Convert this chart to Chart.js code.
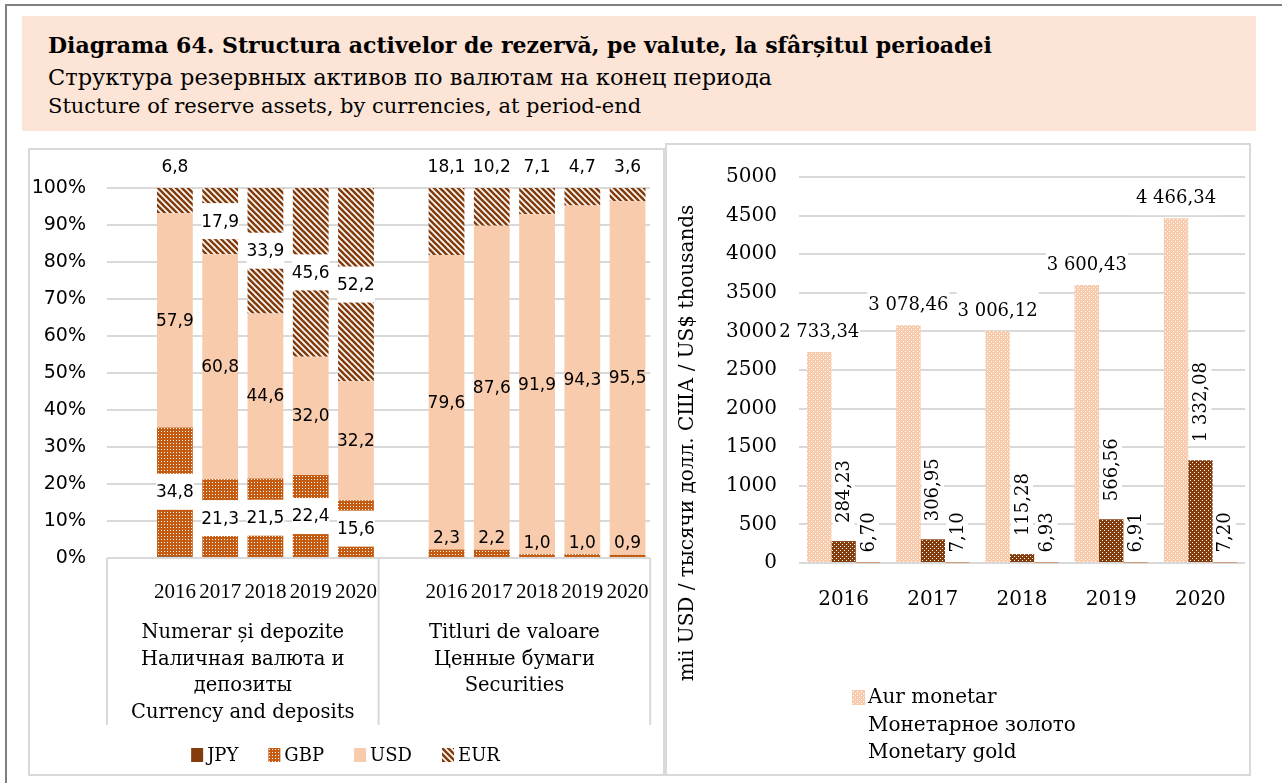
<!DOCTYPE html>
<html>
<head>
<meta charset="utf-8">
<script src="https://cdn.jsdelivr.net/npm/chart.js@4.4.1/dist/chart.umd.min.js"></script>
<style>
    body { margin: 0; width: 1282px; height: 783px; position: relative; overflow: hidden; background: #fff; font-family: "DejaVu Serif", serif; color: #000; }
    #frame { position: absolute; left: 5px; top: 4px; width: 1300px; height: 800px; border-left: 2px solid #808080; border-top: 2px solid #808080; }
    #head { position: absolute; left: 22px; top: 16px; width: 1234px; height: 115px; background: #fce4d6; }
    .hl { position: absolute; left: 26px; white-space: nowrap; line-height: 30px; }
    #t1 { top: 14px; font-weight: bold; font-size: 22px; }
    #t2 { top: 46px; font-size: 22.5px; }
    #t3 { top: 75px; font-size: 21px; }
    .panel { position: absolute; box-sizing: border-box; border: 2px solid #d9d9d9; }
    #pLeft { left: 28px; top: 148px; width: 637px; height: 628px; }
    #pRight { left: 665px; top: 143px; width: 586px; height: 633px; }
    canvas { position: absolute; }
</style>
</head>
<body>
<div id="frame"></div>
<div id="head">
    <div class="hl" id="t1">Diagrama 64. Structura activelor de rezervă, pe valute, la sfârșitul perioadei</div>
    <div class="hl" id="t2">Структура резервных активов по валютам на конец периода</div>
    <div class="hl" id="t3">Stucture of reserve assets, by currencies, at period-end</div>
</div>
<div class="panel" id="pLeft"></div>
<div class="panel" id="pRight"></div>
<canvas id="Chart1" width="635" height="626" style="left:28px;top:148px"></canvas>
<canvas id="Chart2" width="584" height="631" style="left:665px;top:143px"></canvas>

<script>
// ---- data: structure by currencies, % ----
const years = ['2016', '2017', '2018', '2019', '2020'];
const groupNames = [
    ['Numerar și depozite', 'Наличная валюта и', 'депозиты', 'Currency and deposits'],
    ['Titluri de valoare', 'Ценные бумаги', 'Securities']
];
const currencies = ['JPY', 'GBP', 'USD', 'EUR'];

const jpyDep = [0.5, 0, 0, 0, 0];
const gbpDep = [34.8, 21.3, 21.5, 22.4, 15.6];
const usdDep = [57.9, 60.8, 44.6, 32.0, 32.2];
const eurDep = [6.8, 17.9, 33.9, 45.6, 52.2];

const jpySec = [0, 0, 0, 0, 0];
const gbpSec = [2.3, 2.2, 1.0, 1.0, 0.9];
const usdSec = [79.6, 87.6, 91.9, 94.3, 95.5];
const eurSec = [18.1, 10.2, 7.1, 4.7, 3.6];

// ---- data: monetary gold, mii USD ----
const goldLabel = ['Aur monetar', 'Монетарное золото', 'Monetary gold'];
const goldA = [2733.34, 3078.46, 3006.12, 3600.43, 4466.34];
const goldB = [284.23, 306.95, 115.28, 566.56, 1332.08];
const goldC = [6.70, 7.10, 6.93, 6.91, 7.20];
const yTitle = 'mii USD / тысячи долл. США / US$ thousands';

const SERIF = '"DejaVu Serif", serif';
const SANS = '"DejaVu Sans", sans-serif';
const TIMES = '"Liberation Serif", serif';
const GRID = '#d9d9d9';

Chart.defaults.font.family = SERIF;
Chart.defaults.color = '#000';

function makePattern(bg, fg, size, draw) {
    const c = document.createElement('canvas');
    c.width = size;
    c.height = size;
    const g = c.getContext('2d');
    g.fillStyle = bg;
    g.fillRect(0, 0, size, size);
    g.fillStyle = fg;
    g.strokeStyle = fg;
    draw(g, size);
    return g.createPattern(c, 'repeat');
}

const dots = (pts) => (g) => pts.forEach(p => g.fillRect(p[0], p[1], 1, 1));

const gbpFill = makePattern('#c55a11', '#ffffff', 3, dots([[1, 1]]));
const eurFill = makePattern('#ffffff', '#843c0c', 6, function (g, s) {
    g.lineWidth = 2.6;
    for (let k = -s; k <= s; k += s) {
        g.beginPath();
        g.moveTo(k - 1, -1);
        g.lineTo(k + s + 1, s + 1);
        g.stroke();
    }
});
const goldFill = makePattern('#f8cbad', '#ffffff', 4, dots([[0, 0], [2, 2]]));
const brownFill = makePattern('#843c0c', '#ffffff', 4, dots([[1, 1], [3, 3]]));

function fmt1(v) {
    return v.toFixed(1).replace('.', ',');
}

function fmt2(v) {
    const p = v.toFixed(2).split('.');
    return p[0].replace(/\B(?=(\d{3})+(?!\d))/g, ' ') + ',' + p[1];
}

// ---------------- left chart ----------------
const leftCats = [''].concat(years, [''], years);
const join = (a, b) => [null].concat(a, [null], b);

const pctLabels = {
    id: 'pctLabels',
    afterDatasetsDraw(chart) {
        const ctx = chart.ctx;
        ctx.save();
        ctx.font = '17px ' + SANS;
        ctx.textAlign = 'center';
        ctx.textBaseline = 'middle';
        chart.data.datasets.forEach((ds, di) => {
            if (ds.label === 'JPY') return;
            const meta = chart.getDatasetMeta(di);
            meta.data.forEach((bar, i) => {
                const v = ds.data[i];
                if (v == null) return;
                const sec = i > 5;
                const mid = (bar.y + bar.base) / 2;
                let y = mid;
                let box = false;
                if (ds.label === 'GBP') {
                    if (sec) y = bar.y - 12; else box = true;
                } else if (ds.label === 'EUR') {
                    if (sec || v < 10) y = bar.y - 21; else box = true;
                }
                if (box) {
                    ctx.fillStyle = '#fff';
                    ctx.fillRect(bar.x - bar.width / 2 - 1, y - 18, bar.width + 2, 36);
                }
                ctx.fillStyle = '#000';
                ctx.fillText(fmt1(v), bar.x, y + 1);
            });
        });
        ctx.restore();
    },
    afterDraw(chart) {
        const ctx = chart.ctx;
        const x = chart.scales.x;
        const area = chart.chartArea;
        const step = (x.right - x.left) / leftCats.length;
        ctx.save();
        // multi-level axis boxes
        ctx.strokeStyle = GRID;
        ctx.lineWidth = 2;
        [x.left, x.left + step * 6, x.right].forEach(px => {
            ctx.beginPath();
            ctx.moveTo(px, area.bottom);
            ctx.lineTo(px, area.bottom + 167);
            ctx.stroke();
        });
        ctx.font = '19.5px ' + SERIF;
        ctx.fillStyle = '#000';
        ctx.textAlign = 'center';
        ctx.textBaseline = 'middle';
        groupNames.forEach((lines, g) => {
            const cx = x.left + step * (g * 6 + 3);
            lines.forEach((t, k) => ctx.fillText(t, cx, area.bottom + 75 + k * 26.5));
        });
        // legend
        ctx.font = '18px ' + SERIF;
        const fills = ['#843c0c', gbpFill, '#f8cbad', eurFill];
        const widths = currencies.map(c => ctx.measureText(c).width);
        const gap = 30;
        const total = widths.reduce((s, w) => s + w + 16, 0) + gap * (currencies.length - 1);
        let lx = (chart.width - total) / 2;
        const ly = 607;
        ctx.textAlign = 'left';
        currencies.forEach((c, k) => {
            ctx.fillStyle = fills[k];
            ctx.fillRect(lx, ly - 7, 12, 14);
            ctx.fillStyle = '#000';
            ctx.fillText(c, lx + 16, ly + 1);
            lx += widths[k] + 16 + gap;
        });
        ctx.restore();
    }
};

new Chart(document.getElementById('Chart1').getContext('2d'), {
    type: 'bar',
    data: {
        labels: leftCats,
        datasets: [
            {label: 'JPY', data: join(jpyDep, jpySec), backgroundColor: '#843c0c'},
            {label: 'GBP', data: join(gbpDep, gbpSec), backgroundColor: gbpFill},
            {label: 'USD', data: join(usdDep, usdSec), backgroundColor: '#f8cbad'},
            {label: 'EUR', data: join(eurDep, eurSec), backgroundColor: eurFill}
        ]
    },
    options: {
        responsive: false,
        animation: false,
        events: [],
        barPercentage: 0.79,
        categoryPercentage: 1,
        layout: {padding: {top: 40, right: 10, left: 0, bottom: 0}},
        plugins: {legend: {display: false}, tooltip: {enabled: false}},
        scales: {
            x: {
                stacked: true,
                grid: {display: false},
                border: {display: false},
                ticks: {autoSkip: false, maxRotation: 0, minRotation: 0, padding: 14, font: {size: 21, family: TIMES}},
                afterFit: s => { s.height = 216; }
            },
            y: {
                stacked: true,
                min: 0,
                max: 100,
                grid: {color: GRID, lineWidth: 2, drawTicks: false},
                border: {display: false},
                ticks: {stepSize: 10, padding: 21, callback: v => v + '%', font: {size: 19, family: SANS}},
                afterFit: s => { s.width = 79; }
            }
        }
    },
    plugins: [pctLabels]
});

// ---------------- right chart ----------------
const goldLabels = {
    id: 'goldLabels',
    afterDatasetsDraw(chart) {
        const ctx = chart.ctx;
        ctx.save();
        ctx.font = '18px ' + SERIF;
        ctx.textBaseline = 'middle';
        chart.data.datasets.forEach((ds, di) => {
            const meta = chart.getDatasetMeta(di);
            meta.data.forEach((bar, i) => {
                const t = fmt2(ds.data[i]);
                const w = ctx.measureText(t).width;
                if (di === 0) {
                    const y = bar.y - 21;
                    ctx.fillStyle = '#fff';
                    ctx.fillRect(bar.x - w / 2 - 1, y - 18, w + 2, 36);
                    ctx.fillStyle = '#000';
                    ctx.textAlign = 'center';
                    ctx.fillText(t, bar.x, y + 1);
                } else {
                    const start = bar.y - (di === 1 ? 18 : 10);
                    ctx.save();
                    ctx.translate(bar.x, start);
                    ctx.rotate(-Math.PI / 2);
                    ctx.fillStyle = '#fff';
                    ctx.fillRect(-2, -11, w + 4, 22);
                    ctx.fillStyle = '#000';
                    ctx.textAlign = 'left';
                    ctx.fillText(t, 0, 1);
                    ctx.restore();
                }
            });
        });
        ctx.restore();
    },
    afterDraw(chart) {
        const ctx = chart.ctx;
        ctx.save();
        ctx.font = '20px ' + SERIF;
        ctx.fillStyle = '#000';
        ctx.textBaseline = 'middle';
        // axis title
        ctx.save();
        ctx.translate(23, 300);
        ctx.rotate(-Math.PI / 2);
        ctx.textAlign = 'center';
        ctx.fillText(yTitle, 0, 0);
        ctx.restore();
        // legend
        ctx.fillStyle = goldFill;
        ctx.fillRect(187, 547, 13, 15);
        ctx.fillStyle = '#000';
        ctx.textAlign = 'left';
        goldLabel.forEach((t, k) => ctx.fillText(t, 203, 555 + k * 27.5));
        ctx.restore();
    }
};

new Chart(document.getElementById('Chart2').getContext('2d'), {
    type: 'bar',
    data: {
        labels: years,
        datasets: [
            {label: goldLabel.join(' '), data: goldA, backgroundColor: goldFill},
            {label: 'B', data: goldB, backgroundColor: brownFill},
            {label: 'C', data: goldC, backgroundColor: '#c55a11'}
        ]
    },
    options: {
        responsive: false,
        animation: false,
        events: [],
        barPercentage: 1,
        categoryPercentage: 0.82,
        layout: {padding: {top: 29, right: 4, left: 0, bottom: 0}},
        plugins: {legend: {display: false}, tooltip: {enabled: false}},
        scales: {
            x: {
                grid: {display: false},
                border: {display: false},
                ticks: {maxRotation: 0, padding: 17, font: {size: 20, family: SERIF}},
                afterFit: s => { s.height = 211; }
            },
            y: {
                min: 0,
                max: 5000,
                grid: {color: GRID, lineWidth: 2, drawTicks: false},
                border: {display: false},
                ticks: {stepSize: 500, padding: 22, callback: v => String(v), font: {size: 20, family: SERIF}},
                afterFit: s => { s.width = 134; }
            }
        }
    },
    plugins: [goldLabels]
});
</script>
</body>
</html>
